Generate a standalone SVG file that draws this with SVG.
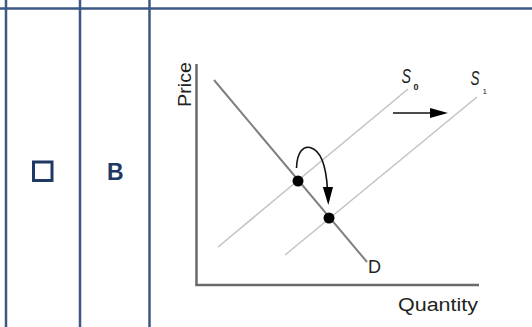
<svg xmlns="http://www.w3.org/2000/svg" width="532" height="327" viewBox="0 0 532 327">
<style>
.grid{stroke:#3d5884;stroke-width:2.5;fill:none}
.axis{stroke:#6a6a6a;stroke-width:2.5;fill:none}
.dem{stroke:#7f7f7f;stroke-width:2;fill:none}
.sup{stroke:#c4c4c4;stroke-width:1.6;fill:none}
.lbl{font-family:"Liberation Sans",Arial,sans-serif;fill:#231f20}
.arr{stroke:#111;stroke-width:1.6;fill:none}
</style>
<rect width="532" height="327" fill="#ffffff"/>
<g id="table">
<line class="grid" x1="0" y1="8.5" x2="532" y2="8.5"/>
<line class="grid" x1="6" y1="0" x2="6" y2="327"/>
<line class="grid" x1="80" y1="0" x2="80" y2="327"/>
<line class="grid" x1="149.5" y1="0" x2="149.5" y2="327"/>
</g>
<g id="checkbox">
<rect x="33.5" y="162" width="18.5" height="18.5" fill="none" stroke="#1f3864" stroke-width="3"/>
</g>
<g id="option-b">
<text x="107" y="180" font-family="'Liberation Sans',Arial,sans-serif" font-weight="bold" font-size="23" fill="#1f3864">B</text>
</g>
<g id="axes">
<line class="axis" x1="196.5" y1="64" x2="196.5" y2="286"/>
<line class="axis" x1="195.5" y1="285" x2="479" y2="285"/>
<text class="lbl" font-size="18" transform="translate(190.5,107) rotate(-90)" textLength="45" lengthAdjust="spacingAndGlyphs">Price</text>
<text class="lbl" font-size="18" x="398" y="311" textLength="80" lengthAdjust="spacingAndGlyphs">Quantity</text>
</g>
<g id="demand">
<line class="dem" x1="214" y1="80" x2="367" y2="262"/>
<text class="lbl" font-size="18" x="368" y="273">D</text>
</g>
<g id="supply-s0">
<line class="sup" x1="218" y1="247" x2="408" y2="89"/>
<text class="lbl" font-size="20" font-style="italic" x="401.5" y="83" textLength="9.5" lengthAdjust="spacingAndGlyphs">S</text>
<text class="lbl" font-size="9" font-weight="bold" x="413.5" y="90">0</text>
</g>
<g id="supply-s1">
<line class="sup" x1="285" y1="255" x2="477" y2="97"/>
<text class="lbl" font-size="20" font-style="italic" x="470.5" y="85" textLength="9" lengthAdjust="spacingAndGlyphs">S</text>
<text class="lbl" font-size="8" x="482.5" y="94">1</text>
</g>
<g id="equilibria">
<circle cx="298" cy="181" r="5.5" fill="#000"/>
<circle cx="329" cy="218" r="5.5" fill="#000"/>
</g>
<g id="connectors">
<line class="arr" x1="393" y1="113" x2="432" y2="113"/>
<polygon points="448,113 430,108 430,118" fill="#000"/>
<path class="arr" d="M296.5,168 C297,151 304,146 310,147.5 C320,150 326,162 327.5,190"/>
<polygon points="328.3,205 322.8,187 333,187" fill="#000"/>
</g>
</svg>
